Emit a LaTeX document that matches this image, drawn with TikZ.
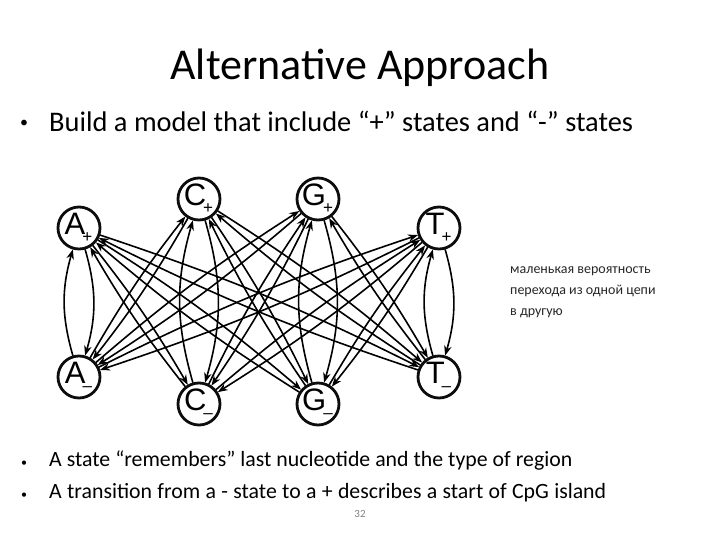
\documentclass[tikz,border=0pt]{standalone}
\usepackage{fontspec}
\setmainfont{Carlito}
\newfontfamily\nodefont{Liberation Sans}
\usetikzlibrary{arrows.meta}
\definecolor{ink}{rgb}{0.05,0.05,0.06}
\begin{document}
\begin{tikzpicture}[x=1pt,y=-1pt,
  snode/.style={circle,minimum size=44pt,inner sep=0pt,font=\nodefont\fontsize{31}{31}\selectfont},
  ring/.style={draw=ink,line width=2.8pt},
  tr/.style={line width=1.6pt,-{Stealth[length=10pt,width=7.5pt]}},
  txt/.style={inner sep=0pt,anchor=base west}]
\useasboundingbox (0,0) rectangle (720,540);
\newcommand{\stl}[2]{\kern-1pt#1\kern-3pt\raisebox{-8pt}{\fontsize{17}{17}\selectfont #2}}
\node[inner sep=0pt,font=\fontsize{44}{44}\selectfont] (title) at (360,68) {Alternative Approach};
\node[txt,font=\fontsize{16}{16}\selectfont] (b1d) at (20,128) {\textbullet};
\node[txt,font=\fontsize{28.4}{28}\selectfont] (b1) at (49,132) {\makebox[584pt][s]{Build a model that include “+” states and “-” states}};
% states
\node[snode] (Ap) at (79,228) {\stl{A}{+}};
\node[snode] (Cp) at (199,199) {\stl{C}{+}};
\node[snode] (Gp) at (318,199) {\stl{G}{+}};
\node[snode] (Tp) at (439,228) {\stl{T}{+}};
\node[snode] (Am) at (79,377) {\stl{A}{–}};
\node[snode] (Cm) at (199,404) {\stl{C}{–}};
\node[snode] (Gm) at (318,404) {\stl{G}{–}};
\node[snode] (Tm) at (439,377) {\stl{T}{–}};
\draw[ring] (Ap.center) circle (21);
\draw[ring] (Cp.center) circle (21);
\draw[ring] (Gp.center) circle (21);
\draw[ring] (Tp.center) circle (21);
\draw[ring] (Am.center) circle (21);
\draw[ring] (Cm.center) circle (21);
\draw[ring] (Gm.center) circle (21);
\draw[ring] (Tm.center) circle (21);
% transitions
\foreach \p in {A,C,G,T}{
  \foreach \m in {A,C,G,T}{
    \ifx\p\m
      \draw[tr] (\p p) to[bend left=16] (\m m);
      \draw[tr] (\m m) to[bend left=16] (\p p);
    \else
      \draw[tr] (\p p) to[bend left=4] (\m m);
      \draw[tr] (\m m) to[bend left=4] (\p p);
    \fi
  }
}
\node[txt,font=\fontsize{14}{14}\selectfont,text=black!85] (ru1) at (510,273) {маленькая вероятность};
\node[txt,font=\fontsize{14}{14}\selectfont,text=black!85] (ru2) at (510,294) {перехода из одной цепи};
\node[txt,font=\fontsize{14}{14}\selectfont,text=black!85] (ru3) at (510,315) {в другую};
\node[txt,font=\fontsize{12}{12}\selectfont] (b2d) at (21,466) {\textbullet};
\node[txt,font=\fontsize{21.8}{22}\selectfont] (b2) at (49,466) {\makebox[523pt][s]{A state “remembers” last nucleotide and the type of region}};
\node[txt,font=\fontsize{12}{12}\selectfont] (b3d) at (21,498) {\textbullet};
\node[txt,font=\fontsize{21.8}{22}\selectfont] (b3) at (49,498) {\makebox[557pt][s]{A transition from a - state to a + describes a start of CpG island}};
\node[inner sep=0pt,font=\fontsize{11}{11}\selectfont,text=black!50] (pg) at (360,514) {32};
\end{tikzpicture}
\end{document}
